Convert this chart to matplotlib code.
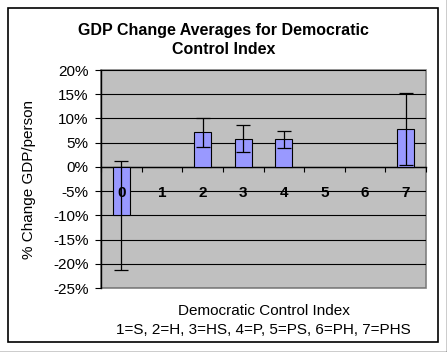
import matplotlib.pyplot as plt
from matplotlib.patches import Rectangle
from matplotlib.lines import Line2D
from matplotlib.ticker import FuncFormatter, FixedLocator

categories = ["0", "1", "2", "3", "4", "5", "6", "7"]
avg_change = [-10.0, None, 7.1, 5.8, 5.7, None, None, 7.8]
err_change = [11.2, None, 2.9, 2.8, 1.75, None, None, 7.35]
y_ticks = [-25, -20, -15, -10, -5, 0, 5, 10, 15, 20]

plt.rcParams['font.family'] = ['Liberation Sans', 'DejaVu Sans']

fig = plt.figure(figsize=(4.47, 3.52), dpi=100)
ax = fig.add_axes([101 / 447, 1 - 288 / 352, 325 / 447, 218 / 352])

###############bars and error bars################
xs = [i for i, v in enumerate(avg_change) if v is not None]
vals = [avg_change[i] for i in xs]
errs = [err_change[i] for i in xs]
ax.bar(xs, vals, width=0.42, color='#9999FF', edgecolor='#000000', linewidth=0.8, zorder=3)
ax.errorbar(xs, vals, yerr=errs, fmt='none', ecolor='black', elinewidth=0.9,
            capsize=5, capthick=0.9, zorder=4)

###############axes setting################
ax.set_xlim(-0.5, len(categories) - 0.5)
ax.set_ylim(-25, 20)
ax.set_facecolor('#C0C0C0')
ax.patch.set_edgecolor('#808080')
ax.patch.set_linewidth(1.2)

ax.set_yticks(y_ticks)
ax.yaxis.set_major_formatter(FuncFormatter(lambda v, p: "%d%%" % v))
ax.grid(axis='y', color='black', linewidth=0.8)
ax.set_axisbelow(True)
ax.xaxis.set_zorder(5)
ax.tick_params(axis='y', direction='out', length=4, width=0.8, labelsize=11, pad=5)

ax.spines['bottom'].set_position(('data', 0))
ax.spines['bottom'].set_linewidth(1)
ax.spines['left'].set_linewidth(1)
ax.spines['top'].set_visible(False)
ax.spines['right'].set_visible(False)

ax.set_xticks(range(len(categories)))
ax.set_xticklabels(categories, fontweight='bold', fontsize=11)
ax.xaxis.set_minor_locator(FixedLocator([i - 0.5 for i in range(len(categories) + 1)]))
ax.tick_params(axis='x', which='major', length=0, pad=13.5)
ax.tick_params(axis='x', which='minor', direction='out', length=3.5, width=0.8)

ax.set_ylabel("% Change GDP/person", fontsize=11, labelpad=12)

fig.text(263.5 / 447, 1 - 311 / 352, "Democratic Control Index",
         ha='center', va='center', fontsize=11)
fig.text(263.5 / 447, 1 - 330 / 352, "1=S, 2=H, 3=HS, 4=P, 5=PS, 6=PH, 7=PHS",
         ha='center', va='center', fontsize=11)

fig.text(223.5 / 447, 1 - 40 / 352, "GDP Change Averages for Democratic\nControl Index",
         ha='center', va='center', fontsize=11.5, fontweight='bold', linespacing=1.3)

###############frames################
fig.patches.append(Rectangle((8 / 447, 1 - 342 / 352), 430 / 447, 334 / 352,
                             transform=fig.transFigure, fill=False, edgecolor='black', linewidth=1.2))
fig.lines.append(Line2D([0, 446.5 / 447, 446.5 / 447], [0.5 / 352, 0.5 / 352, 1],
                        transform=fig.transFigure, color='black', linewidth=1))

plt.savefig("out.png", dpi=100)
